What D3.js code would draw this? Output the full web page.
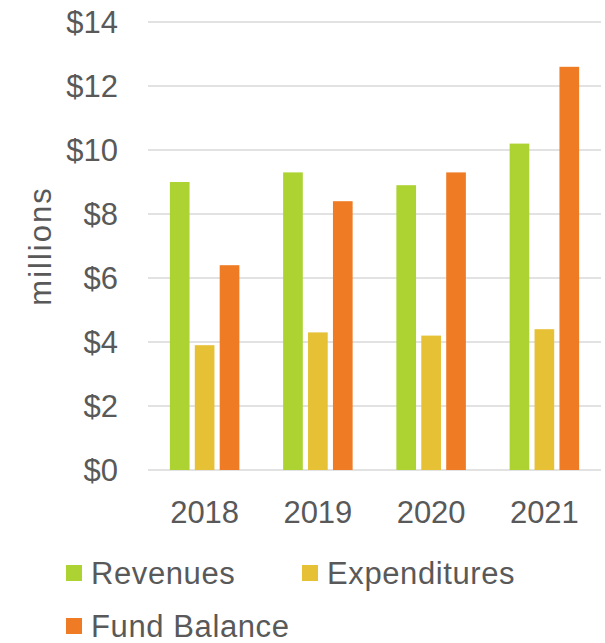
<!DOCTYPE html>
<html>
<head>
<meta charset="utf-8">
<script src="https://cdn.jsdelivr.net/npm/d3@7"></script>
<style>
  body { margin: 0; background: #fff; }
  text { font-family: "Liberation Sans", Arial, sans-serif; fill: #595959; }
</style>
</head>
<body>
<div id="hook-chart"></div>
<script>
'use strict';

var years = ['2018', '2019', '2020', '2021'];
var seriesNames = ['Revenues', 'Expenditures', 'Fund Balance'];
var revenues = [9.0, 9.3, 8.9, 10.2];
var expenditures = [3.9, 4.3, 4.2, 4.4];
var fundBalance = [6.4, 8.4, 9.3, 12.6];
var yTicks = [0, 2, 4, 6, 8, 10, 12, 14];
var colors = ['#add333', '#e6c035', '#ef7c25'];

var options = {
  width: 605,
  height: 643,
  left: 148,
  right: 601,
  top: 22,
  bottom: 470,
  fontSize: 31
};

function draw(options) {
  var svg = d3.select('#hook-chart')
    .append('svg')
    .attr('width', options.width)
    .attr('height', options.height);

  var values = [revenues, expenditures, fundBalance];

  var y = d3.scaleLinear()
    .domain([0, 14])
    .range([options.bottom, options.top]);

  var x0 = d3.scaleBand()
    .domain(years)
    .range([options.left, options.right]);

  var x1 = d3.scaleBand()
    .domain(seriesNames)
    .range([0, 69.5])
    .paddingInner(0.21);

  var groupOffset = (x0.bandwidth() - 69.5) / 2;

  // gridlines
  svg.append('g')
    .selectAll('line')
    .data(yTicks)
    .join('line')
    .attr('x1', options.left)
    .attr('x2', options.right)
    .attr('y1', function(d) { return y(d); })
    .attr('y2', function(d) { return y(d); })
    .style('stroke', '#d9d9d9')
    .style('stroke-width', 1.5);

  // y labels
  svg.append('g')
    .selectAll('text')
    .data(yTicks)
    .join('text')
    .attr('x', 118)
    .attr('y', function(d) { return y(d); })
    .attr('dy', '0.36em')
    .attr('text-anchor', 'end')
    .style('font-size', options.fontSize + 'px')
    .text(function(d) { return '$' + d; });

  // bars
  var groups = svg.append('g')
    .selectAll('g')
    .data(years)
    .join('g')
    .attr('transform', function(d) {
      return 'translate(' + (x0(d) + groupOffset) + ',0)';
    });

  groups.selectAll('rect')
    .data(function(d, i) {
      return seriesNames.map(function(s, k) {
        return { series: s, value: values[k][i], color: colors[k] };
      });
    })
    .join('rect')
    .attr('x', function(d) { return x1(d.series); })
    .attr('y', function(d) { return y(d.value); })
    .attr('width', x1.bandwidth())
    .attr('height', function(d) { return y(0) - y(d.value); })
    .style('fill', function(d) { return d.color; });

  // x labels
  svg.append('g')
    .selectAll('text')
    .data(years)
    .join('text')
    .attr('x', function(d) { return x0(d) + x0.bandwidth() / 2; })
    .attr('y', 523)
    .attr('text-anchor', 'middle')
    .style('font-size', options.fontSize + 'px')
    .text(function(d) { return d; });

  // axis title
  svg.append('text')
    .attr('transform', 'translate(50.5,246) rotate(-90)')
    .attr('text-anchor', 'middle')
    .style('font-size', options.fontSize + 'px')
    .style('letter-spacing', '2px')
    .text('millions');

  // legend
  var legendPos = [[66, 565], [302, 565], [66, 618]];
  var legend = svg.append('g')
    .selectAll('g')
    .data(seriesNames)
    .join('g')
    .attr('transform', function(d, i) {
      return 'translate(' + legendPos[i][0] + ',' + legendPos[i][1] + ')';
    });

  legend.append('rect')
    .attr('width', 16)
    .attr('height', 16)
    .style('fill', function(d, i) { return colors[i]; });

  legend.append('text')
    .attr('x', 25)
    .attr('y', 19)
    .style('font-size', options.fontSize + 'px')
    .style('letter-spacing', '0.6px')
    .text(function(d) { return d; });
}

draw(options);
</script>
</body>
</html>
